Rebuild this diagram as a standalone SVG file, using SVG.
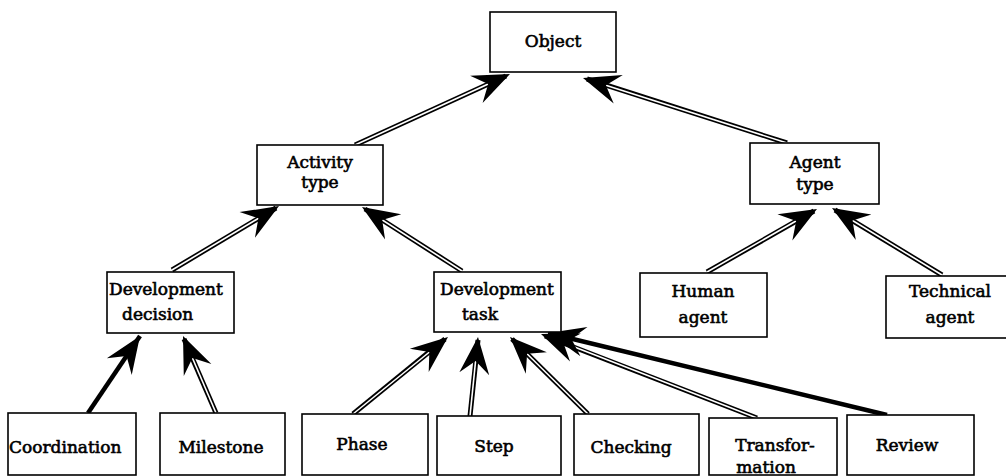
<svg xmlns="http://www.w3.org/2000/svg" width="1006" height="476" viewBox="0 0 1006 476">
  <style>
    .box { fill: #ffffff; stroke: #000000; stroke-width: 1.6; }
    .lbl { font-family: "DejaVu Serif", "Liberation Serif", serif; font-size: 17px; fill: #000000; stroke: #000000; stroke-width: 0.6; }
    .mid { text-anchor: middle; }
    .rail { fill: none; stroke: #000000; stroke-width: 5; }
    .gap { fill: none; stroke: #ffffff; stroke-width: 1.6; marker-end: url(#head); }
    .solid { fill: none; stroke: #000000; stroke-width: 4.5; marker-end: url(#head); }
  </style>
  <defs>
    <!-- barbed filled arrowhead, tip at origin -->
    <marker id="head" viewBox="-40 -18 42 36" refX="0" refY="0" markerWidth="42" markerHeight="36" markerUnits="userSpaceOnUse" orient="auto">
      <path d="M0,0 L-37,-15 L-24,0 L-37,15 Z" fill="#000000"/>
    </marker>
  </defs>
  <rect width="1006" height="476" fill="#ffffff"/>

  <!-- generalisation connectors (double rails with filled heads) -->
  <g id="connectors">
    <line class="rail" x1="355" y1="145" x2="506" y2="76"/>
    <line class="gap" x1="355" y1="145" x2="510" y2="74"/>

    <line class="rail" x1="787" y1="143" x2="587" y2="79"/>
    <line class="gap" x1="787" y1="143" x2="583" y2="78"/>

    <line class="rail" x1="172" y1="270" x2="276" y2="208"/>
    <line class="gap" x1="172" y1="270" x2="279" y2="206"/>

    <line class="rail" x1="462" y1="271" x2="365" y2="209"/>
    <line class="gap" x1="462" y1="271" x2="362" y2="207"/>

    <line class="rail" x1="707" y1="272" x2="814" y2="211"/>
    <line class="gap" x1="707" y1="272" x2="817" y2="209"/>

    <line class="rail" x1="942" y1="275" x2="835" y2="210"/>
    <line class="gap" x1="942" y1="275" x2="832" y2="208"/>

    <line class="solid" x1="88" y1="413" x2="140" y2="336"/>

    <line class="rail" x1="216" y1="413" x2="184" y2="339"/>
    <line class="gap" x1="216" y1="413" x2="183" y2="336"/>

    <line class="rail" x1="353" y1="414" x2="445" y2="339"/>
    <line class="gap" x1="353" y1="414" x2="448" y2="337"/>

    <line class="rail" x1="470" y1="416" x2="478" y2="340"/>
    <line class="gap" x1="470" y1="416" x2="478" y2="337"/>

    <line class="rail" x1="588" y1="414" x2="512" y2="339"/>
    <line class="gap" x1="588" y1="414" x2="510" y2="337"/>

    <line class="rail" x1="757" y1="418" x2="545" y2="336"/>
    <line class="gap" x1="757" y1="418" x2="541" y2="334"/>

    <line class="solid" x1="887" y1="415" x2="548" y2="333"/>
  </g>

  <g id="object">
    <rect class="box" x="490" y="12" width="126" height="60"/>
    <text class="lbl mid" x="553" y="47">Object</text>
  </g>

  <g id="activity-type">
    <rect class="box" x="257" y="145" width="126" height="60"/>
    <text class="lbl mid" x="320" y="168">Activity</text>
    <text class="lbl mid" x="320" y="188">type</text>
  </g>

  <g id="agent-type">
    <rect class="box" x="750" y="143" width="129" height="61"/>
    <text class="lbl mid" x="815" y="168">Agent</text>
    <text class="lbl mid" x="815" y="190">type</text>
  </g>

  <g id="development-decision">
    <rect class="box" x="107" y="272" width="127" height="61"/>
    <text class="lbl" x="109" y="295">Development</text>
    <text class="lbl" x="122" y="320">decision</text>
  </g>

  <g id="development-task">
    <rect class="box" x="434" y="272" width="127" height="60"/>
    <text class="lbl" x="440" y="295">Development</text>
    <text class="lbl" x="462" y="320">task</text>
  </g>

  <g id="human-agent">
    <rect class="box" x="640" y="273" width="127" height="64"/>
    <text class="lbl mid" x="703" y="297">Human</text>
    <text class="lbl mid" x="703" y="323">agent</text>
  </g>

  <g id="technical-agent">
    <rect class="box" x="886" y="276" width="125" height="62"/>
    <text class="lbl mid" x="950" y="297">Technical</text>
    <text class="lbl mid" x="950" y="323">agent</text>
  </g>

  <g id="coordination">
    <rect class="box" x="8" y="413" width="128" height="62"/>
    <text class="lbl" x="9" y="453">Coordination</text>
  </g>

  <g id="milestone">
    <rect class="box" x="160" y="413" width="125" height="62"/>
    <text class="lbl mid" x="221" y="453">Milestone</text>
  </g>

  <g id="phase">
    <rect class="box" x="302" y="414" width="126" height="61"/>
    <text class="lbl mid" x="362" y="450">Phase</text>
  </g>

  <g id="step">
    <rect class="box" x="437" y="416" width="124" height="59"/>
    <text class="lbl mid" x="494" y="452">Step</text>
  </g>

  <g id="checking">
    <rect class="box" x="574" y="414" width="125" height="61"/>
    <text class="lbl mid" x="631" y="453">Checking</text>
  </g>

  <g id="transformation">
    <rect class="box" x="709" y="418" width="128" height="57"/>
    <text class="lbl mid" x="775" y="451">Transfor-</text>
    <text class="lbl mid" x="766" y="473">mation</text>
  </g>

  <g id="review">
    <rect class="box" x="847" y="415" width="127" height="60"/>
    <text class="lbl mid" x="907" y="451">Review</text>
  </g>
</svg>
